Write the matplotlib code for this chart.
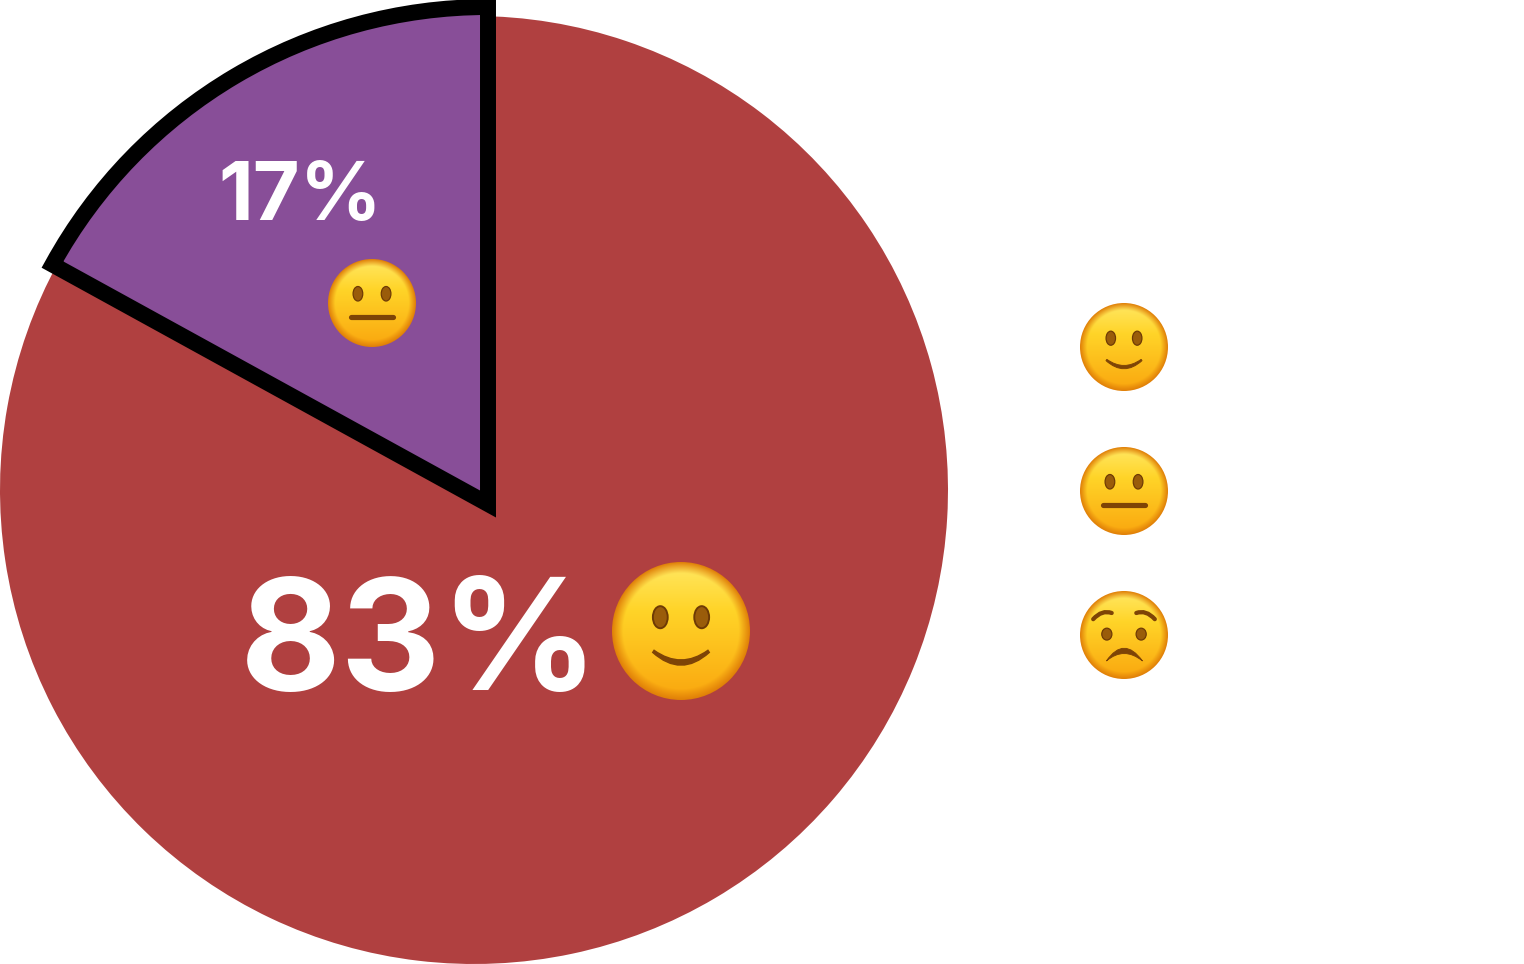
import numpy as np
import matplotlib
matplotlib.use("Agg")
import matplotlib.pyplot as plt
from matplotlib.patches import Circle, Ellipse, PathPatch
from matplotlib.path import Path

W, H = 1524, 964

# Data
categories = ["Neutral", "Positive", "Negative"]
shares = [17, 83, 0]
slice_colors = ["#884E98", "#B04040", "#B04040"]
legend_order = ["Positive", "Neutral", "Negative"]
legend_faces = ["smile", "neutral", "worried"]

plt.rcParams["font.family"] = ["Inter", "DejaVu Sans"]

fig = plt.figure(figsize=(W / 100, H / 100), dpi=100, facecolor="white")
ax = fig.add_axes([0, 0, 1, 1])


def py(y):
    # picture y (from the top) to axes y
    return H - y


def face(cx, cy, r, kind):
    # the gradient disc of the emoji
    n = int(r * 4)
    u, v = np.meshgrid(np.linspace(-1, 1, n), np.linspace(-1, 1, n))
    d = np.sqrt(u**2 + v**2)
    top = np.array([255, 232, 100]) / 255
    mid = np.array([255, 212, 40]) / 255
    low = np.array([250, 166, 14]) / 255
    rim = np.array([224, 128, 8]) / 255
    t = np.clip((v + 1) / 2, 0, 1)[..., None]
    base = np.where(t < 0.35, top + (mid - top) * (t / 0.35), mid + (low - mid) * ((t - 0.35) / 0.65))
    e = np.clip((d - 0.84) / 0.16, 0, 1)[..., None]
    img = base + (rim - base) * e
    im = ax.imshow(img, extent=[cx - r, cx + r, py(cy + r), py(cy - r)], origin="upper",
                   aspect="auto", zorder=5, interpolation="bilinear")
    im.set_clip_path(Circle((cx, py(cy)), r, transform=ax.transData))

    brown = "#7E4406"

    def pt(dx, dy):
        return (cx + dx * r, py(cy + dy * r))

    if kind == "smile":
        eyes = (0.30, -0.20, 0.215, 0.32)
    elif kind == "neutral":
        eyes = (0.32, -0.21, 0.22, 0.33)
    else:
        eyes = (0.39, -0.02, 0.23, 0.27)
    for s in (-1, 1):
        ax.add_patch(Ellipse(pt(s * eyes[0], eyes[1]), eyes[2] * r, eyes[3] * r,
                             facecolor="#9A5C0A", edgecolor="#6E3A05", lw=r * 0.02, zorder=6))

    if kind == "smile":
        # crescent mouth, thick in the middle
        verts = [pt(-0.41, 0.31), pt(0, 0.68), pt(0.41, 0.31), pt(0.39, 0.28), pt(0, 0.56), pt(-0.39, 0.28), pt(-0.41, 0.31)]
        codes = [Path.MOVETO, Path.CURVE3, Path.CURVE3, Path.LINETO, Path.CURVE3, Path.CURVE3, Path.CLOSEPOLY]
        ax.add_patch(PathPatch(Path(verts, codes), facecolor=brown, edgecolor=brown, lw=r * 0.015, zorder=6))
    elif kind == "neutral":
        line = Path([pt(-0.47, 0.31), pt(0.47, 0.31)], [Path.MOVETO, Path.LINETO])
        ax.add_patch(PathPatch(line, facecolor="none", edgecolor=brown, lw=r * 0.085,
                               capstyle="round", zorder=6))
    else:
        verts = [pt(-0.4, 0.59), pt(0, 0.01), pt(0.42, 0.59), pt(0, 0.25), pt(-0.4, 0.59), pt(-0.4, 0.59)]
        codes = [Path.MOVETO, Path.CURVE3, Path.CURVE3, Path.CURVE3, Path.CURVE3, Path.CLOSEPOLY]
        ax.add_patch(PathPatch(Path(verts, codes), facecolor=brown, edgecolor=brown, lw=r * 0.015, zorder=6))
        for s in (-1, 1):
            brow = Path([pt(s * 0.7, -0.36), pt(s * 0.5, -0.58), pt(s * 0.28, -0.5)],
                        [Path.MOVETO, Path.CURVE3, Path.CURVE3])
            ax.add_patch(PathPatch(brow, facecolor="none", edgecolor=brown, lw=r * 0.07,
                                   capstyle="round", zorder=6))


wedges, _ = ax.pie(shares, colors=slice_colors, startangle=90, counterclock=True,
                   center=(474, py(490)), radius=474, wedgeprops={"linewidth": 0}, frame=False)

# the neutral slice sits a bit off centre and has the black outline
wedges[0].set_center((488, py(504)))
wedges[0].set_radius(497)
wedges[0].set_edgecolor("black")
wedges[0].set_linewidth(11.5)
wedges[0].set_zorder(3)

ax.set_xlim(0, W)
ax.set_ylim(0, H)
ax.set_aspect("auto")
ax.axis("off")

ax.text(240, py(690), f"{shares[1]}%", color="white", fontsize=112, fontweight="bold",
        ha="left", va="baseline", zorder=4)
ax.text(218, py(220), f"{shares[0]}%", color="white", fontsize=58, fontweight="bold",
        ha="left", va="baseline", zorder=4)

face(681, 631, 69, "smile")
face(372, 303, 44, "neutral")

for i, (name, kind) in enumerate(zip(legend_order, legend_faces)):
    y = 347 + i * 144
    face(1124, y, 44, kind)
    # legend text is white on white in the source
    ax.text(1225, py(y + 15), f"{name}: {shares[categories.index(name)]}%", color="white",
            fontsize=27, ha="left", va="baseline", zorder=4)

fig.savefig("out.png", dpi=100, facecolor="white")
